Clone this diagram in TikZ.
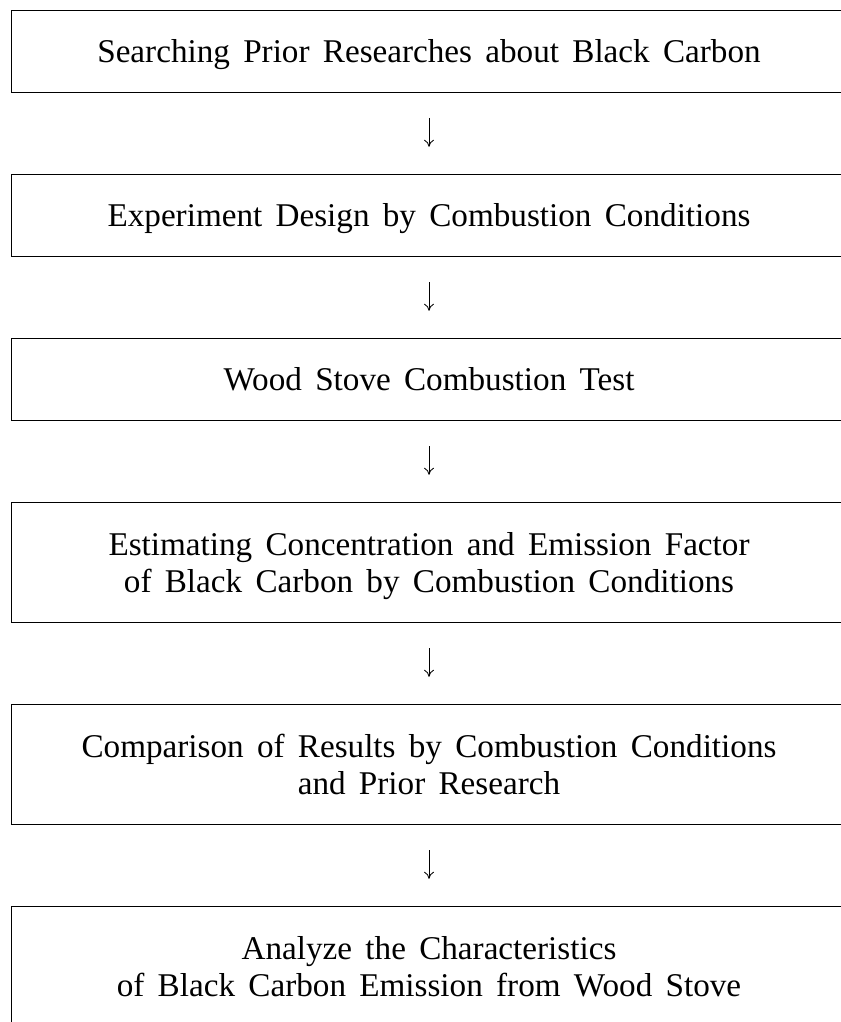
\documentclass[tikz,border=0pt]{standalone}
\usepackage{fontspec}
\setmainfont{Liberation Serif}[WordSpace=1.6]
\usetikzlibrary{arrows.meta,positioning}

\begin{document}
\begin{tikzpicture}
    % Estilos
    \tikzset{
        step_box/.style={draw, line width=0.6pt, rectangle, minimum width=20.9cm, minimum height=2.05cm, outer sep=0pt, align=center, text centered, text depth=0pt, font=\fontsize{23.6}{26.3}\selectfont},
        tall_box/.style={step_box, minimum height=3cm},
        arrow/.style={-{To[length=5pt,width=7pt]}, line width=0.6pt, shorten <=0.65cm, shorten >=0.68cm}
    }
    \useasboundingbox (0,0) rectangle (21.025,-25.55);
    \clip (0,0) rectangle (21.025,-25.55);

    % Nodos
    \node[step_box] (search) at (10.725,-1.275) {Searching Prior Researches about Black Carbon};
    \node[step_box, below=2.05cm of search] (design) {Experiment Design by Combustion Conditions};
    \node[step_box, below=2.05cm of design] (test) {Wood Stove Combustion Test};
    \node[tall_box, below=2.05cm of test] (estimate) {Estimating Concentration and Emission Factor\\of Black Carbon by Combustion Conditions};
    \node[tall_box, below=2.05cm of estimate] (compare) {Comparison of Results by Combustion Conditions\\and Prior Research};
    \node[tall_box, below=2.05cm of compare] (analyze) {Analyze the Characteristics\\of Black Carbon Emission from Wood Stove};

    % Flechas
    \draw[arrow] (search.south) -- (design.north);
    \draw[arrow] (design.south) -- (test.north);
    \draw[arrow] (test.south) -- (estimate.north);
    \draw[arrow] (estimate.south) -- (compare.north);
    \draw[arrow] (compare.south) -- (analyze.north);
\end{tikzpicture}
\end{document}
